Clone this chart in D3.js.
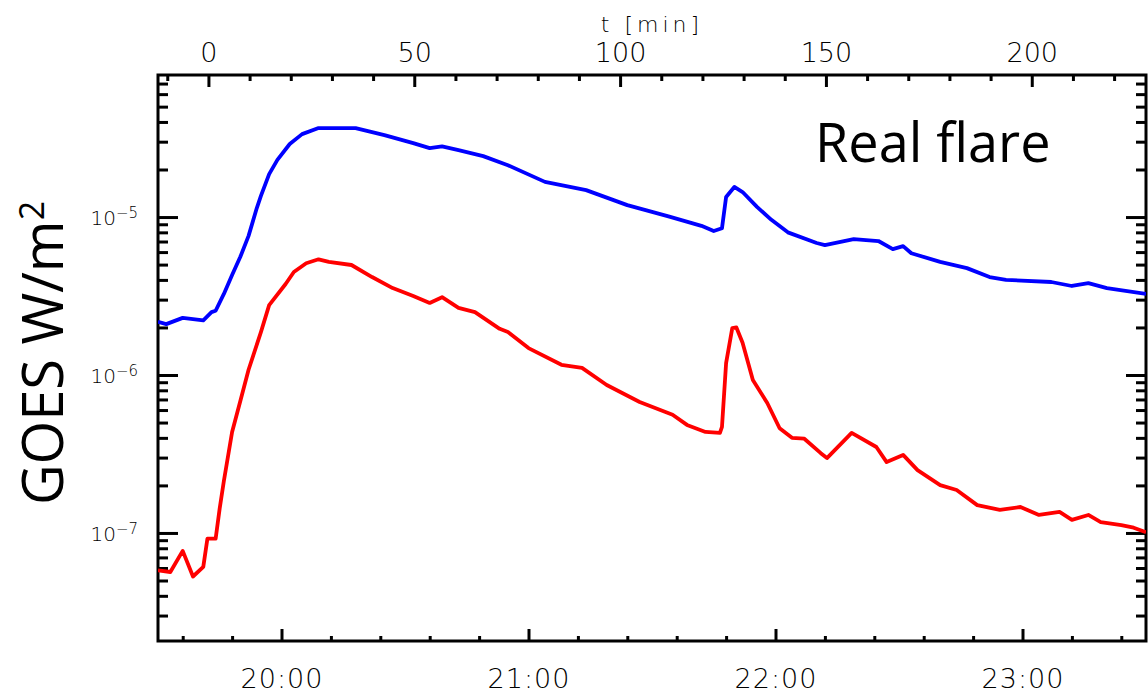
<!DOCTYPE html>
<html>
<head>
<meta charset="utf-8">
<script src="https://cdn.jsdelivr.net/npm/d3@7"></script>
<style>
  body { margin: 0; background: #fff; }
  .tick text { font-family: "DejaVu Sans", sans-serif; font-weight: 200; fill: #000; }
  .tick line { stroke: #000; stroke-width: 3; }
  .domain { display: none; }
</style>
</head>
<body>
<div id="chart"></div>
<script>
/* GOES X-ray flux: times (UT) and W/m^2. */
const blueTimes = ["19:30", "19:32", "19:36", "19:41", "19:43", "19:44", "19:46", "19:48", "19:50", "19:52",
  "19:54", "19:55", "19:57", "19:59", "20:02", "20:05", "20:09", "20:18", "20:25", "20:32",
  "20:36", "20:39", "20:43", "20:49", "20:55", "21:04", "21:14", "21:24", "21:34", "21:42",
  "21:45", "21:47", "21:48", "21:50", "21:52", "21:55:30", "21:59", "22:03", "22:10", "22:12",
  "22:19", "22:25", "22:28:30", "22:31", "22:33", "22:40", "22:46:30", "22:52", "22:56", "23:07",
  "23:12", "23:16", "23:20:30", "23:30"];
const blueFlux = [2.17e-6, 2.1e-6, 2.3e-6, 2.22e-6, 2.5e-6, 2.55e-6, 3.26e-6, 4.3e-6, 5.6e-6, 7.6e-6,
  1.14e-5, 1.36e-5, 1.87e-5, 2.3e-5, 2.9e-5, 3.35e-5, 3.66e-5, 3.66e-5, 3.3e-5, 2.94e-5,
  2.73e-5, 2.8e-5, 2.65e-5, 2.43e-5, 2.13e-5, 1.67e-5, 1.48e-5, 1.19e-5, 1.01e-5, 8.8e-6,
  8.15e-6, 8.5e-6, 1.34e-5, 1.55e-5, 1.44e-5, 1.16e-5, 9.6e-6, 8.0e-6, 6.85e-6, 6.65e-6,
  7.25e-6, 7.05e-6, 6.27e-6, 6.55e-6, 5.9e-6, 5.2e-6, 4.75e-6, 4.17e-6, 4.0e-6, 3.88e-6,
  3.66e-6, 3.82e-6, 3.55e-6, 3.26e-6];

const redTimes = ["19:30", "19:33", "19:36", "19:38:30", "19:41", "19:42", "19:44", "19:45", "19:46", "19:48",
  "19:50", "19:52", "19:55", "19:57", "20:01", "20:03", "20:06", "20:09", "20:11:30", "20:17",
  "20:22", "20:27", "20:32", "20:36", "20:39", "20:43", "20:47", "20:53", "20:55", "21:00",
  "21:08", "21:13", "21:19", "21:27", "21:35", "21:38:30", "21:43", "21:46:30", "21:47", "21:48",
  "21:49:30", "21:50:30", "21:52", "21:54:30", "21:58", "22:01", "22:04", "22:07", "22:11", "22:12:30",
  "22:18:30", "22:24:30", "22:27", "22:31", "22:34:30", "22:40", "22:44", "22:49", "22:54:30", "22:59:30",
  "23:04", "23:09", "23:12", "23:16", "23:19", "23:24", "23:27", "23:30"];
const redFlux = [5.8e-8, 5.66e-8, 7.7e-8, 5.3e-8, 6.1e-8, 9.2e-8, 9.2e-8, 1.44e-7, 2.13e-7, 4.36e-7,
  6.85e-7, 1.08e-6, 1.87e-6, 2.77e-6, 3.77e-6, 4.49e-6, 5.1e-6, 5.4e-6, 5.2e-6, 4.97e-6,
  4.17e-6, 3.55e-6, 3.16e-6, 2.86e-6, 3.11e-6, 2.66e-6, 2.5e-6, 1.96e-6, 1.87e-6, 1.48e-6,
  1.16e-6, 1.11e-6, 8.65e-7, 6.75e-7, 5.6e-7, 4.83e-7, 4.36e-7, 4.3e-7, 4.7e-7, 1.19e-6,
  1.98e-6, 2.0e-6, 1.6e-6, 9.3e-7, 6.65e-7, 4.6e-7, 4.0e-7, 3.95e-7, 3.2e-7, 2.98e-7,
  4.3e-7, 3.5e-7, 2.81e-7, 3.12e-7, 2.5e-7, 2.01e-7, 1.87e-7, 1.5e-7, 1.4e-7, 1.46e-7,
  1.3e-7, 1.36e-7, 1.21e-7, 1.3e-7, 1.17e-7, 1.12e-7, 1.08e-7, 1.01e-7];

/* Axis ranges and tick labels. */
const timeRange = ["19:30", "23:30"];
const flareStart = "19:42:15"; // t = 0 on the top axis
const fluxRange = [2.07e-8, 7.93e-5];
const hourTicks = ["20:00", "21:00", "22:00", "23:00"];
const minuteTicks = [0, 50, 100, 150, 200];
const decadeTicks = [1e-7, 1e-6, 1e-5];

const chartParams = {
  width: 1148,
  height: 694,
  left: 158,
  right: 1146,
  top: 75,
  bottom: 641
};

const parseTime = s => d3.utcParse(s.length > 5 ? "%H:%M:%S" : "%H:%M")(s);

const x = d3.scaleUtc()
  .domain(timeRange.map(parseTime))
  .range([chartParams.left, chartParams.right]);

const y = d3.scaleLog()
  .domain(fluxRange)
  .range([chartParams.bottom, chartParams.top]);

/* Top axis: minutes since flare start. */
const t0 = parseTime(flareStart);
const tMin = d => (d - t0) / 60000;
const xMin = d3.scaleLinear()
  .domain(x.domain().map(tMin))
  .range(x.range());

const svg = d3.select("#chart")
  .append("svg")
  .attr("width", chartParams.width)
  .attr("height", chartParams.height);

/* Minor tick values. */
const hourMinor = d3.utcMinute.every(12).range(...x.domain())
  .filter(d => d.getUTCMinutes() !== 0);
const minuteMinor = d3.range(-10, 230, 10).filter(v => v % 50 !== 0);
const fluxMinor = [];
[1e-8, 1e-7, 1e-6, 1e-5].forEach(dec => {
  for (let k = 2; k <= 9; k++) {
    const v = k * dec;
    if (v > fluxRange[0] && v < fluxRange[1]) fluxMinor.push(v);
  }
});

/* Bottom axis (time of day). */
const bottomG = svg.append("g")
  .attr("transform", "translate(0," + chartParams.bottom + ")");
bottomG.append("g")
  .call(d3.axisBottom(x).tickValues(hourMinor).tickSize(-5).tickFormat(""));
bottomG.append("g")
  .call(d3.axisBottom(x)
    .tickValues(hourTicks.map(parseTime))
    .tickSize(-12)
    .tickPadding(28)
    .tickFormat(d3.utcFormat("%H:%M")))
  .selectAll("text")
  .style("font-size", "27px")
  .style("letter-spacing", "1px");

/* Top axis (t in minutes). */
const topG = svg.append("g")
  .attr("transform", "translate(0," + chartParams.top + ")");
topG.append("g")
  .call(d3.axisTop(xMin).tickValues(minuteMinor).tickSize(-6).tickFormat(""));
topG.append("g")
  .call(d3.axisTop(xMin).tickValues(minuteTicks).tickSize(-12).tickPadding(13).tickFormat(d3.format("d")))
  .selectAll("text")
  .style("font-size", "27px");

svg.append("text")
  .attr("x", 652)
  .attr("y", 32)
  .attr("text-anchor", "middle")
  .style("font-family", "DejaVu Sans, sans-serif")
  .style("font-weight", 200)
  .style("font-size", "22px")
  .style("letter-spacing", "4px")
  .text("t [min]");

/* Left and right log axes. */
const leftG = svg.append("g")
  .attr("transform", "translate(" + chartParams.left + ",0)");
leftG.append("g")
  .call(d3.axisLeft(y).tickValues(fluxMinor).tickSize(-10).tickFormat(""));
leftG.append("g")
  .call(d3.axisLeft(y).tickValues(decadeTicks).tickSize(-20).tickPadding(20).tickFormat(""))
  .selectAll(".tick text")
  .attr("dy", "0.38em")
  .style("font-size", "20px")
  .each(function (d) {
    const t = d3.select(this);
    t.append("tspan").text("10");
    t.append("tspan")
      .attr("dy", "-0.5em")
      .style("font-size", "15px")
      .text("\u2212" + Math.round(-Math.log10(d)));
  });

const rightG = svg.append("g")
  .attr("transform", "translate(" + chartParams.right + ",0)");
rightG.append("g")
  .call(d3.axisRight(y).tickValues(fluxMinor).tickSize(-10).tickFormat(""));
rightG.append("g")
  .call(d3.axisRight(y).tickValues(decadeTicks).tickSize(-20).tickFormat(""));

/* Frame around the plot. */
svg.append("rect")
  .attr("x", chartParams.left)
  .attr("y", chartParams.top)
  .attr("width", chartParams.right - chartParams.left)
  .attr("height", chartParams.bottom - chartParams.top)
  .attr("fill", "none")
  .attr("stroke", "#000")
  .attr("stroke-width", 3);

/* Flux curves. */
svg.append("clipPath")
  .attr("id", "plotClip")
  .append("rect")
  .attr("x", chartParams.left)
  .attr("y", chartParams.top)
  .attr("width", chartParams.right - chartParams.left)
  .attr("height", chartParams.bottom - chartParams.top);

const line = d3.line()
  .x(d => x(d[0]))
  .y(d => y(d[1]));

const series = [
  { color: "#0000ff", data: blueTimes.map((t, i) => [parseTime(t), blueFlux[i]]) },
  { color: "#ff0000", data: redTimes.map((t, i) => [parseTime(t), redFlux[i]]) }
];

svg.append("g")
  .attr("clip-path", "url(#plotClip)")
  .selectAll("path")
  .data(series)
  .enter()
  .append("path")
  .attr("d", d => line(d.data))
  .attr("fill", "none")
  .attr("stroke", d => d.color)
  .attr("stroke-width", 3.8)
  .attr("stroke-linejoin", "round");

/* Y axis title and annotation. */
const yTitle = svg.append("text")
  .attr("transform", "translate(63,353) rotate(-90)")
  .attr("text-anchor", "middle")
  .style("font-family", "Open Sans, sans-serif")
  .style("font-size", "56px")
  .style("fill", "#000");
yTitle.append("tspan").text("GOES W/m");
yTitle.append("tspan")
  .attr("dy", "-0.55em")
  .style("font-size", "34px")
  .text("2");

svg.append("text")
  .attr("x", 815)
  .attr("y", 162)
  .style("font-family", "Open Sans, sans-serif")
  .style("font-size", "54px")
  .style("fill", "#000")
  .text("Real flare");
</script>
</body>
</html>
